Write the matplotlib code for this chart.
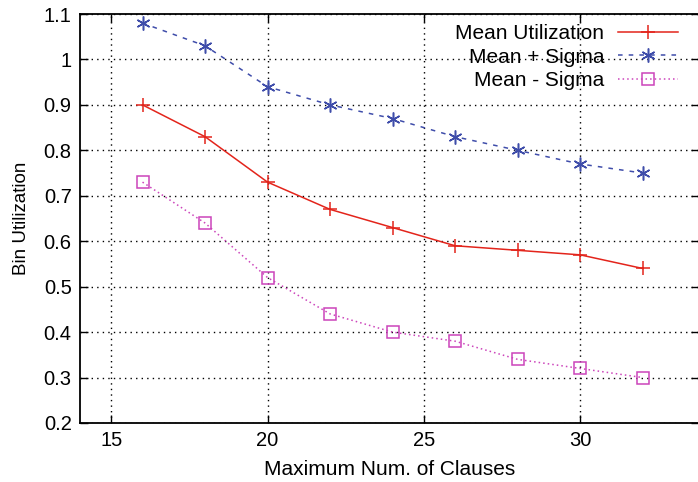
import matplotlib
matplotlib.use("Agg")
import matplotlib.pyplot as plt

x = [16, 18, 20, 22, 24, 26, 28, 30, 32]
mean_util = [0.90, 0.83, 0.73, 0.67, 0.63, 0.59, 0.58, 0.57, 0.54]
mean_plus = [1.08, 1.03, 0.94, 0.90, 0.87, 0.83, 0.80, 0.77, 0.75]
mean_minus = [0.73, 0.64, 0.52, 0.44, 0.40, 0.38, 0.34, 0.32, 0.30]
xticks = [15, 20, 25, 30]
yticks = [0.2, 0.3, 0.4, 0.5, 0.6, 0.7, 0.8, 0.9, 1.0, 1.1]
ylabels = ["0.2", "0.3", "0.4", "0.5", "0.6", "0.7", "0.8", "0.9", "1", "1.1"]

plt.rcParams['font.family'] = ['Liberation Sans', 'DejaVu Sans']
fig = plt.figure(figsize=(6.98, 4.82), dpi=100)
ax = fig.add_axes([80/698, 59/482, 619/698, 409/482])

ax.plot(x, mean_util, color='#e3241b', lw=1.1, marker='+', ms=10, mew=1.1,
        label='Mean Utilization')
ax.plot(x, mean_plus, color='#3f4daa', lw=1.1, ls=(0, (3, 4)), marker=(6, 2, 0), ms=10, mew=1.1,
        label='Mean + Sigma')
ax.plot(x, mean_minus, color='#cc44bb', lw=1.1, ls=(0, (1, 2)), marker='s', ms=8, mew=1.1,
        mfc='none', label='Mean - Sigma')

ax.set_xlim(14, 33.8)
ax.set_ylim(0.2, 1.1)
ax.set_xticks(xticks)
ax.set_yticks(yticks)
ax.set_yticklabels(ylabels)
ax.grid(True, color='black', ls=(0, (1, 3)), lw=1.0)
ax.tick_params(direction='in', top=True, right=True, length=6, width=1, labelsize=14.5, pad=6)
for s in ax.spines.values():
    s.set_linewidth(1.3)
ax.spines['right'].set_visible(False)
ax.set_xlabel('Maximum Num. of Clauses', fontsize=15, labelpad=7)
ax.set_ylabel('Bin Utilization', fontsize=13.5, labelpad=10)

leg = ax.legend(loc='upper right', frameon=False, markerfirst=False, fontsize=15,
                handlelength=2.9, borderaxespad=0, borderpad=0, labelspacing=0.22,
                handletextpad=0.65,
                bbox_to_anchor=(678/698, 1 - 24/482), bbox_transform=fig.transFigure)
for t in leg.get_texts():
    t.set_ha('right')
leg._legend_box.align = 'right'

fig.savefig('out.png', dpi=100)
